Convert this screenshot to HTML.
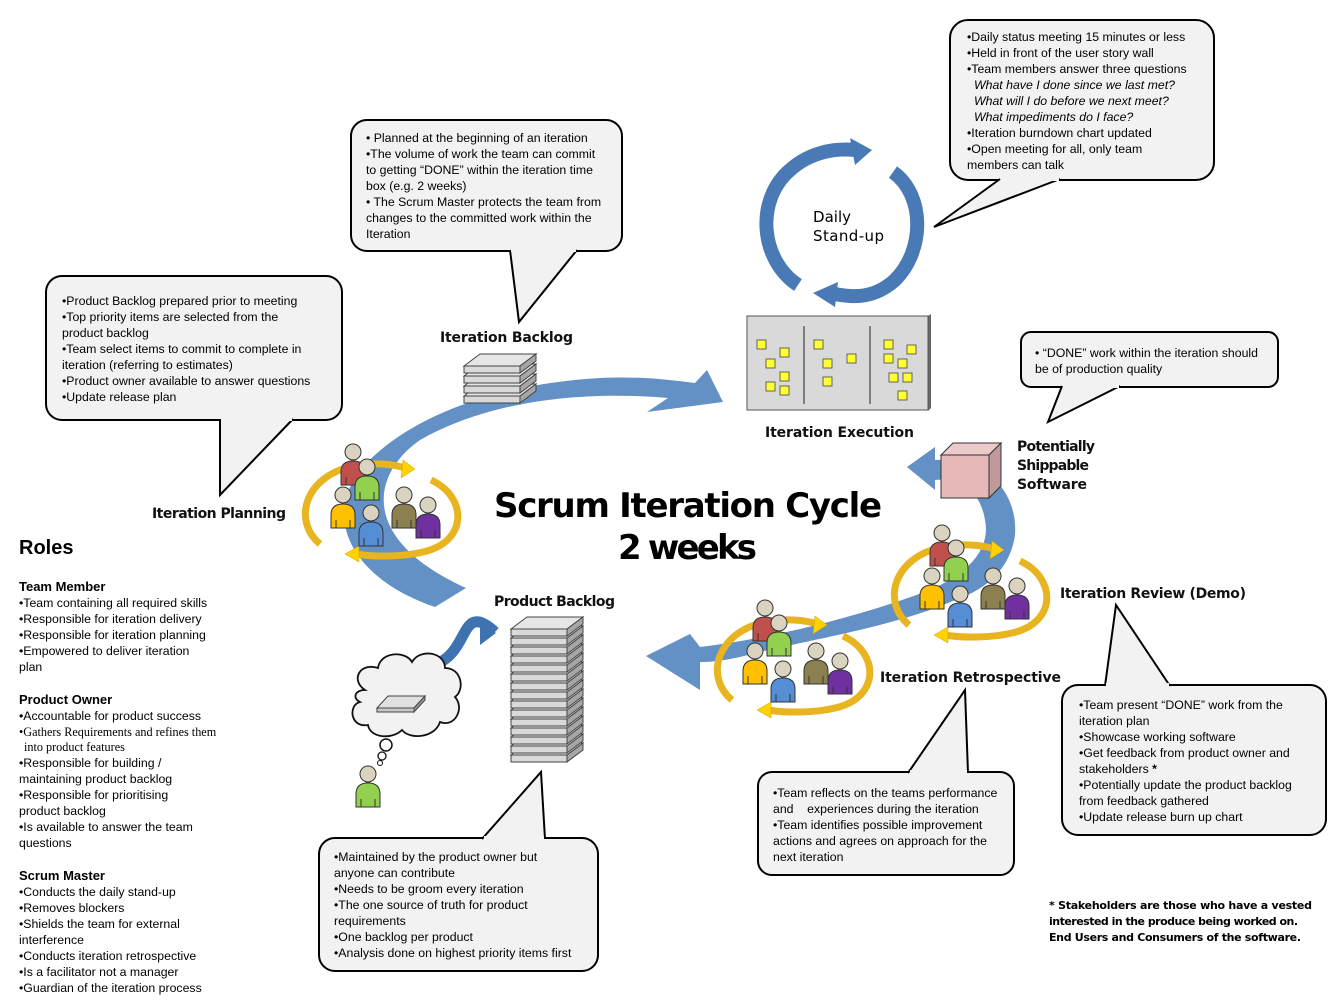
<!DOCTYPE html>
<html><head><meta charset="utf-8"><style>
html,body{margin:0;padding:0;background:#fff}
svg{display:block}
.c{font-family:"Liberation Sans",sans-serif;font-size:12.3px;fill:#000}
.lb{font-family:"DejaVu Sans",sans-serif;font-size:14px;font-weight:bold;fill:#111}
.r{font-family:"Liberation Sans",sans-serif;font-size:12.3px}
</style></head><body>
<svg width="1342" height="1003" viewBox="0 0 1342 1003" xmlns="http://www.w3.org/2000/svg">
<defs>
<g id="p"><path d="M-12,33 L-12,20 Q-12,9 0,9 Q12,9 12,20 L12,33 Z" fill="currentColor" stroke="#333" stroke-width="1"/><path d="M-7,25V33M7,25V33" stroke="#333" stroke-width="1"/><circle cx="0" cy="0" r="8" fill="#d9d3c0" stroke="#333" stroke-width="1"/></g>
<g id="team">
<use href="#p" x="0" y="0" style="color:#c0504d"/>
<use href="#p" x="14" y="15" style="color:#92d050"/>
<use href="#p" x="-10" y="43" style="color:#ffc000"/>
<use href="#p" x="18" y="61" style="color:#558ed5"/>
<use href="#p" x="51" y="43" style="color:#8c8050"/>
<use href="#p" x="75" y="53" style="color:#7030a0"/>
</g>
<g id="yel">
<path d="M-33,92 C-60,70 -50,25 0,14 C20,10 40,12 52,16" fill="none" stroke="#e8b420" stroke-width="7"/>
<path d="M50,8 L62,17 L48,26 Z" fill="#ffd200" stroke="#c9a000" stroke-width="0.5"/>
<path d="M78,28 C115,45 115,90 70,100 C50,105 20,105 3,102" fill="none" stroke="#e8b420" stroke-width="7"/>
<path d="M6,94 L-8,102 L6,110 Z" fill="#ffd200" stroke="#c9a000" stroke-width="0.5"/>
</g>
<g id="slab"><path d="M0,7 L16,-5 L72,-5 L56,7 Z" fill="#e6e6e6" stroke="#444"/><rect x="0" y="7" width="56" height="7" fill="#d9d9d9" stroke="#444"/><path d="M56,7 L72,-5 L72,2 L56,14 Z" fill="#a6a6a6" stroke="#444"/></g>
</defs>

<path d="M435,607 C355,580 320,520 362,468 C400,425 480,385 600,378 C640,376 670,380 695,383 L707,370 L723,402 L647,412 L668,398 C600,392 500,395 420,440 C370,475 360,540 466,588 Z" fill="#5b8ac2" opacity="0.95"/>
<path d="M907,467 L935,447 L935,460 C990,458 1018,495 1015,535 C1010,570 985,590 955,600 C900,625 810,640 760,652 C730,660 715,662 700,662 L700,690 L646,656 L690,634 L700,647 C760,640 850,620 930,590 C975,570 990,545 985,520 C980,490 960,478 935,480 L935,490 Z" fill="#5b8ac2" opacity="0.95"/>

<path d="M798,285 C760,260 755,200 790,170 C810,152 835,148 855,150" fill="none" stroke="#4a7ab5" stroke-width="14"/>
<path d="M850,138 L872,150 L855,165 Z" fill="#4a7ab5"/>
<path d="M893,172 C925,195 925,250 895,280 C875,298 855,298 835,294" fill="none" stroke="#4a7ab5" stroke-width="14"/>
<path d="M838,282 L813,293 L835,307 Z" fill="#4a7ab5"/>
<text x="813" y="222" font-family="DejaVu Sans,sans-serif" font-size="15" textLength="38">Daily</text>
<text x="813" y="241" font-family="DejaVu Sans,sans-serif" font-size="15" textLength="71">Stand-up</text>

<path d="M928,316 L931,314 L931,408 L928,411 Z" fill="#666"/>
<rect x="747" y="316" width="181" height="94" fill="#d9d9d9" stroke="#555"/>
<path d="M804,326V404M870,326V404" stroke="#444" stroke-width="1.2"/>
<g fill="#ffff33" stroke="#444" stroke-width="0.8">
<rect x="757" y="340" width="9" height="9"/><rect x="780" y="348" width="9" height="9"/><rect x="766" y="359" width="9" height="9"/><rect x="780" y="372" width="9" height="9"/><rect x="766" y="382" width="9" height="9"/><rect x="780" y="386" width="9" height="9"/>
<rect x="814" y="340" width="9" height="9"/><rect x="823" y="359" width="9" height="9"/><rect x="847" y="354" width="9" height="9"/><rect x="823" y="377" width="9" height="9"/>
<rect x="884" y="340" width="9" height="9"/><rect x="907" y="345" width="9" height="9"/><rect x="884" y="354" width="9" height="9"/><rect x="898" y="359" width="9" height="9"/><rect x="889" y="373" width="9" height="9"/><rect x="903" y="373" width="9" height="9"/><rect x="898" y="391" width="9" height="9"/>
</g>

<use href="#slab" x="464" y="389"/><use href="#slab" x="464" y="379"/><use href="#slab" x="464" y="369"/><use href="#slab" x="464" y="359"/>

<g>
<use href="#slab" x="511" y="748"/><use href="#slab" x="511" y="739"/><use href="#slab" x="511" y="730"/><use href="#slab" x="511" y="721"/><use href="#slab" x="511" y="712"/><use href="#slab" x="511" y="703"/><use href="#slab" x="511" y="694"/><use href="#slab" x="511" y="685"/><use href="#slab" x="511" y="676"/><use href="#slab" x="511" y="667"/><use href="#slab" x="511" y="658"/><use href="#slab" x="511" y="649"/><use href="#slab" x="511" y="640"/><use href="#slab" x="511" y="631"/><use href="#slab" x="511" y="622"/>
</g>

<path d="M436,664 C470,652 460,600 495,632" fill="none" stroke="#3f72b0" stroke-width="11"/>
<path d="M480,620 L496,633 L480,645 Z" fill="#3f72b0"/>
<path d="M365,690 C350,680 360,662 378,668 C380,652 405,650 412,662 C420,648 445,652 445,668 C462,668 465,690 455,697 C465,708 455,728 440,722 C435,738 410,740 402,730 C392,740 370,738 368,725 C350,728 348,705 360,702 C352,698 355,690 365,690 Z" fill="#f2f2f2" stroke="#111" stroke-width="1.8"/>
<path d="M377,708 L388,696 L425,696 L414,708 Z" fill="#e0e0e0" stroke="#444"/><path d="M377,708 L414,708 L414,712 L377,712 Z" fill="#c8c8c8" stroke="#444"/><path d="M414,708 L425,696 L425,700 L414,712 Z" fill="#999" stroke="#444"/>
<circle cx="386" cy="745" r="6" fill="#fff" stroke="#111" stroke-width="1.5"/><circle cx="382" cy="756" r="4" fill="#fff" stroke="#111" stroke-width="1.3"/><circle cx="380" cy="763" r="2.5" fill="#fff" stroke="#111"/>
<use href="#p" x="368" y="774" style="color:#92d050"/>

<path d="M941,455 L953,443 L1001,443 L989,455 Z" fill="#eccaca" stroke="#333"/>
<path d="M989,455 L1001,443 L1001,486 L989,498 Z" fill="#c09a9a" stroke="#333"/>
<rect x="941" y="455" width="48" height="43" fill="#e6b8b7" stroke="#333"/>

<use href="#yel" x="353" y="452"/><use href="#team" x="353" y="452"/>
<use href="#yel" x="942" y="533"/><use href="#team" x="942" y="533"/>
<use href="#yel" x="765" y="608"/><use href="#team" x="765" y="608"/>

<text class="lb" x="440" y="342" textLength="133">Iteration Backlog</text>
<text class="lb" x="765" y="437" textLength="149">Iteration Execution</text>
<text class="lb" x="1017" y="451" textLength="78">Potentially</text>
<text class="lb" x="1017" y="470" textLength="72">Shippable</text>
<text class="lb" x="1017" y="489" textLength="70">Software</text>
<text class="lb" x="152" y="518" textLength="134">Iteration Planning</text>
<text class="lb" x="494" y="606" textLength="121">Product Backlog</text>
<text class="lb" x="1060" y="598" textLength="186">Iteration Review (Demo)</text>
<text class="lb" x="880" y="682" textLength="181">Iteration Retrospective</text>
<text x="494" y="517" font-family="DejaVu Sans,sans-serif" font-size="34" font-weight="bold" textLength="388">Scrum Iteration Cycle</text>
<text x="618" y="559" font-family="DejaVu Sans,sans-serif" font-size="34" font-weight="bold" textLength="139">2 weeks</text>

<g fill="#f2f2f2" stroke="#000" stroke-width="2">
<rect x="351" y="120" width="271" height="131" rx="16"/><path d="M510,250 L519,322 L577,250"/>
<rect x="46" y="276" width="296" height="144" rx="16"/><path d="M220,419 L220,495 L293,419"/>
<rect x="950" y="20" width="264" height="160" rx="18"/><path d="M1000,179 L934,227 L1060,179"/>
<rect x="1021" y="332" width="257" height="55" rx="10"/><path d="M1062,386 L1048,422 L1120,386"/>
<rect x="1062" y="685" width="264" height="150" rx="16"/><path d="M1105,686 L1116,605 L1170,686"/>
<rect x="758" y="772" width="256" height="103" rx="14"/><path d="M908,773 L965,690 L968,773"/>
<rect x="319" y="838" width="279" height="133" rx="16"/><path d="M482,839 L541,772 L545,839"/>
</g>
<g fill="#f2f2f2">
<rect x="511" y="246" width="65" height="6"/><rect x="221" y="415" width="71" height="6"/><rect x="1001" y="175" width="58" height="6"/><rect x="1063" y="382" width="56" height="6"/><rect x="1106" y="683" width="63" height="6"/><rect x="910" y="770" width="57" height="6"/><rect x="484" y="836" width="60" height="6"/>
</g>

<g class="c">
<text x="366" y="142">• Planned at the beginning of an iteration</text>
<text x="366" y="158">•The volume of work the team can commit</text>
<text x="366" y="174">to getting “DONE” within the iteration time</text>
<text x="366" y="190">box (e.g. 2 weeks)</text>
<text x="366" y="206">• The Scrum Master protects the team from</text>
<text x="366" y="222">changes to the committed work within the</text>
<text x="366" y="238">Iteration</text>

<text x="62" y="305">•Product Backlog prepared prior to meeting</text>
<text x="62" y="321">•Top priority items are selected from the</text>
<text x="62" y="337">product backlog</text>
<text x="62" y="353">•Team select items to commit to complete in</text>
<text x="62" y="369">iteration (referring to estimates)</text>
<text x="62" y="385">•Product owner available to answer questions</text>
<text x="62" y="401">•Update release plan</text>

<text x="967" y="41">•Daily status meeting 15 minutes or less</text>
<text x="967" y="57">•Held in front of the user story wall</text>
<text x="967" y="73">•Team members answer three questions</text>
<text x="974" y="89" font-style="italic">What have I done since we last met?</text>
<text x="974" y="105" font-style="italic">What will I do before we next meet?</text>
<text x="974" y="121" font-style="italic">What impediments do I face?</text>
<text x="967" y="137">•Iteration burndown chart updated</text>
<text x="967" y="153">•Open meeting for all, only team</text>
<text x="967" y="169">members can talk</text>

<text x="1035" y="357">• “DONE” work within the iteration should</text>
<text x="1035" y="373">be of production quality</text>

<text x="1079" y="709">•Team present “DONE” work from the</text>
<text x="1079" y="725">iteration plan</text>
<text x="1079" y="741">•Showcase working software</text>
<text x="1079" y="757">•Get feedback from product owner and</text>
<text x="1079" y="773">stakeholders <tspan font-weight="bold">*</tspan></text>
<text x="1079" y="789">•Potentially update the product backlog</text>
<text x="1079" y="805">from feedback gathered</text>
<text x="1079" y="821">•Update release burn up chart</text>

<text x="773" y="797">•Team reflects on the teams performance</text>
<text x="773" y="813">and &#160;&#160;&#160;experiences during the iteration</text>
<text x="773" y="829">•Team identifies possible improvement</text>
<text x="773" y="845">actions and agrees on approach for the</text>
<text x="773" y="861">next iteration</text>

<text x="334" y="861">•Maintained by the product owner but</text>
<text x="334" y="877">anyone can contribute</text>
<text x="334" y="893">•Needs to be groom every iteration</text>
<text x="334" y="909">•The one source of truth for product</text>
<text x="334" y="925">requirements</text>
<text x="334" y="941">•One backlog per product</text>
<text x="334" y="957">•Analysis done on highest priority items first</text>
</g>

<text x="19" y="554" font-family="Liberation Sans,sans-serif" font-size="20" font-weight="bold">Roles</text>
<g class="r">
<text x="19" y="591" font-weight="bold" font-size="13">Team Member</text>
<text x="19" y="607">•Team containing all required skills</text>
<text x="19" y="623">•Responsible for iteration delivery</text>
<text x="19" y="639">•Responsible for iteration planning</text>
<text x="19" y="655">•Empowered to deliver iteration</text>
<text x="19" y="671">plan</text>
<text x="19" y="704" font-weight="bold" font-size="13">Product Owner</text>
<text x="19" y="720">•Accountable for product success</text>
<text x="19" y="736" font-family="Liberation Serif,serif" font-size="12.2">•Gathers Requirements and refines them</text>
<text x="24" y="751" font-family="Liberation Serif,serif" font-size="12.2">into product features</text>
<text x="19" y="767">•Responsible for building /</text>
<text x="19" y="783">maintaining product backlog</text>
<text x="19" y="799">•Responsible for prioritising</text>
<text x="19" y="815">product backlog</text>
<text x="19" y="831">•Is available to answer the team</text>
<text x="19" y="847">questions</text>
<text x="19" y="880" font-weight="bold" font-size="13">Scrum Master</text>
<text x="19" y="896">•Conducts the daily stand-up</text>
<text x="19" y="912">•Removes blockers</text>
<text x="19" y="928">•Shields the team for external</text>
<text x="19" y="944">interference</text>
<text x="19" y="960">•Conducts iteration retrospective</text>
<text x="19" y="976">•Is a facilitator not a manager</text>
<text x="19" y="992">•Guardian of the iteration process</text>
</g>

<g font-family="DejaVu Sans,sans-serif" font-size="11" font-weight="bold">
<text x="1049" y="909" textLength="263">* Stakeholders are those who have a vested</text>
<text x="1049" y="925" textLength="249">interested in the produce being worked on.</text>
<text x="1049" y="941" textLength="252">End Users and Consumers of the software.</text>
</g>
</svg>
</body></html>
